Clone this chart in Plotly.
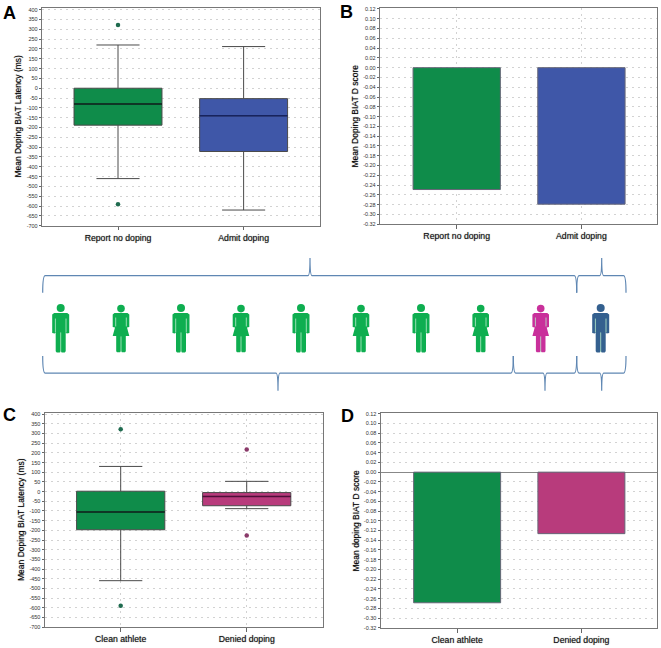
import plotly.graph_objects as go

# figure size in pixels
W = 661
H = 648

# panel A data
a_labels = ["Report no doping", "Admit doping"]
a_q1 = [-188, -322]
a_median = [-80, -140]
a_q3 = [0, -53]
a_low = [-460, -620]
a_high = [220, 212]
a_out_x = [0, 0]
a_out_y = [322, -590]

# panel B data
b_labels = ["Report no doping", "Admit doping"]
b_values = [-0.249, -0.279]

# panel C data
c_labels = ["Clean athlete", "Denied doping"]
c_q1 = [-197, -73]
c_median = [-105, -25]
c_q3 = [2, -5]
c_low = [-460, -88]
c_high = [130, 53]
c_out_x = [0, 0, 1, 1]
c_out_y = [322, -590, 218, -227]

# panel D data
d_labels = ["Clean athlete", "Denied doping"]
d_values = [-0.2685, -0.1264]

# tick labels, typed so they keep the plain hyphen of the original
ms_ticks = [400, 350, 300, 250, 200, 150, 100, 50, 0, -50, -100, -150, -200, -250, -300,
            -350, -400, -450, -500, -550, -600, -650, -700]
ms_text = ["400", "350", "300", "250", "200", "150", "100", "50", "0", "-50", "-100", "-150",
           "-200", "-250", "-300", "-350", "-400", "-450", "-500", "-550", "-600", "-650", "-700"]
d_ticks = [0.12, 0.10, 0.08, 0.06, 0.04, 0.02, 0.00, -0.02, -0.04, -0.06, -0.08, -0.10, -0.12,
           -0.14, -0.16, -0.18, -0.20, -0.22, -0.24, -0.26, -0.28, -0.30, -0.32]
d_text = ["0.12", "0.10", "0.08", "0.06", "0.04", "0.02", "0.00", "-0.02", "-0.04", "-0.06",
          "-0.08", "-0.10", "-0.12", "-0.14", "-0.16", "-0.18", "-0.20", "-0.22", "-0.24",
          "-0.26", "-0.28", "-0.30", "-0.32"]

GREEN = "#0f8c4a"
BLUE = "#3f57a8"
PINK = "#b83b7c"
MED_GREEN = "#06261a"
MED_BLUE = "#17235e"
MED_PINK = "#4d0f38"
DOT_GREEN = "#1f6b4f"
DOT_PINK = "#8a3a6a"
FIG_GREEN = "#0eae50"
FIG_PINK = "#c9309b"
FIG_BLUE = "#34608f"
BRACE = "#5f87b3"
FONT = "Liberation Sans"
SOFT = "0 0 1px rgba(0,0,0,0.55)"  # thickens the small text a little, like the scanned original

fig = go.Figure()
positions = [0, 1]
box_w = 0.7


def add_boxes(ax, q1, med, q3, low, high, colors, med_colors):
    for i in positions:
        fig.add_trace(go.Box(x=[i], q1=[q1[i]], median=[med[i]], q3=[q3[i]],
                             lowerfence=[low[i]], upperfence=[high[i]],
                             width=box_w, whiskerwidth=0.49, boxpoints=False,
                             fillcolor=colors[i], line=dict(color="#4a4a4a", width=1),
                             xaxis="x" + ax, yaxis="y" + ax, showlegend=False))
        # darker median line on top
        fig.add_trace(go.Scatter(x=[i - box_w / 2, i + box_w / 2], y=[med[i], med[i]], mode="lines",
                                 line=dict(color=med_colors[i], width=1.4),
                                 xaxis="x" + ax, yaxis="y" + ax, showlegend=False))


add_boxes("1", a_q1, a_median, a_q3, a_low, a_high, [GREEN, BLUE], [MED_GREEN, MED_BLUE])
fig.add_trace(go.Scatter(x=a_out_x, y=a_out_y, mode="markers",
                         marker=dict(color=DOT_GREEN, size=4.5), xaxis="x1", yaxis="y1", showlegend=False))

fig.add_trace(go.Bar(x=positions, y=b_values, width=box_w, marker=dict(color=[GREEN, BLUE], line=dict(color="#667", width=1)),
                     xaxis="x2", yaxis="y2", showlegend=False))

add_boxes("3", c_q1, c_median, c_q3, c_low, c_high, [GREEN, PINK], [MED_GREEN, MED_PINK])
fig.add_trace(go.Scatter(x=c_out_x, y=c_out_y, mode="markers",
                         marker=dict(color=[DOT_GREEN, DOT_GREEN, DOT_PINK, DOT_PINK], size=4.5),
                         xaxis="x3", yaxis="y3", showlegend=False))

fig.add_trace(go.Bar(x=positions, y=d_values, width=box_w, marker=dict(color=[GREEN, PINK], line=dict(color="#667", width=1)),
                     xaxis="x4", yaxis="y4", showlegend=False))


def px_x(x):
    return x / W


def px_y(y):
    return 1 - y / H


def setup_axes(n, box, labels, xrange, yrange, yticks, ytext, vgrid, zero=False):
    left, right, top, bottom = box
    grid = "#d2d2d2"
    fig.layout["xaxis" + n] = dict(domain=[px_x(left), px_x(right)], anchor="y" + n, range=xrange,
                                   tickmode="array", tickvals=positions, ticktext=labels,
                                   ticks="outside", ticklen=3.5, tickcolor="#666", tickwidth=1,
                                   tickfont=dict(family=FONT, size=8.7, color="#111111", shadow=SOFT),
                                   showgrid=vgrid, gridcolor=grid, griddash="2px,4px", gridwidth=1,
                                   showline=True, linecolor="#777", linewidth=1.4, mirror=True,
                                   zeroline=False, fixedrange=True)
    fig.layout["yaxis" + n] = dict(domain=[px_y(bottom), px_y(top)], anchor="x" + n, range=yrange,
                                   tickmode="array", tickvals=yticks, ticktext=ytext,
                                   ticks="outside", ticklen=2, tickcolor="#666", tickwidth=1,
                                   tickfont=dict(family=FONT, size=5.5, color="#333"),
                                   showgrid=True, gridcolor=grid, griddash="2px,4px", gridwidth=1,
                                   showline=True, linecolor="#777", linewidth=1.4, mirror=True,
                                   zeroline=zero, zerolinecolor="#888", zerolinewidth=1.3, fixedrange=True)


setup_axes("1", (42, 320, 6.5, 225.5), a_labels, [-0.605, 1.608], [-700, 406], ms_ticks, ms_text, False)
setup_axes("2", (380, 657, 6.3, 224), b_labels, [-0.615, 1.606], [-0.32, 0.1214], d_ticks, d_text, True)
setup_axes("3", (44.7, 322.7, 414, 630), c_labels, [-0.603, 1.603], [-700, 407], ms_ticks, ms_text, True)
setup_axes("4", (380.7, 656.7, 414, 630.7), d_labels, [-0.615, 1.606], [-0.32, 0.122], d_ticks, d_text, False, zero=True)


def note(x, y, text, size, bold=False, angle=0):
    fig.add_annotation(x=px_x(x), y=px_y(y), xref="paper", yref="paper", text=text, showarrow=False,
                       textangle=angle, xanchor="center", yanchor="middle",
                       font=dict(family=FONT, size=size, color="#000000", weight="bold" if bold else "normal",
                                 shadow="none" if bold else SOFT))


# panel letters and y axis titles
note(9.5, 11, "A", 18, bold=True)
note(346.5, 10.5, "B", 18, bold=True)
note(9, 416.5, "C", 18, bold=True)
note(347, 417, "D", 18, bold=True)
note(18.5, 115, "Mean Doping BIAT Latency (ms)", 8.5, angle=-90)
note(355.5, 115, "Mean Doping BIAT D score", 8.5, angle=-90)
note(21, 522, "Mean Doping BIAT Latency (ms)", 8.5, angle=-90)
note(355.5, 523, "Mean doping BIAT D score", 8.5, angle=-90)


def path(points):
    # points are pixel positions, turned into paper coordinates
    return "M " + " L ".join(f"{px_x(x):.5f} {px_y(y):.5f}" for x, y in points) + " Z"


def add_path(d, fill=None, line=None, width=0):
    fig.add_shape(type="path", path=d, xref="paper", yref="paper", layer="above",
                  fillcolor=fill if fill else "rgba(0,0,0,0)",
                  line=dict(color=line if line else "rgba(0,0,0,0)", width=width))


def add_head(cx, cy, r, color):
    fig.add_shape(type="circle", xref="paper", yref="paper", x0=px_x(cx - r), x1=px_x(cx + r),
                  y0=px_y(cy + r), y1=px_y(cy - r), fillcolor=color, line=dict(width=0), layer="above")


def gap_line(x0, y0, x1, y1):
    fig.add_shape(type="line", xref="paper", yref="paper", x0=px_x(x0), x1=px_x(x1), y0=px_y(y0), y1=px_y(y1),
                  line=dict(color="#b8ecca", width=0.8), layer="above")


def man(cx, color):
    add_head(cx, 308.3, 4, color)
    add_path(path([(cx - 6.5, 313.3), (cx + 6.5, 313.3), (cx + 8.5, 315), (cx + 8.5, 333.5), (cx + 6, 334),
                   (cx + 5, 333), (cx + 5, 352), (cx + 4, 353.3), (cx + 1, 353.3), (cx, 352), (cx - 1, 353.3),
                   (cx - 4, 353.3), (cx - 5, 352), (cx - 5, 333), (cx - 6, 334), (cx - 8.5, 333.5), (cx - 8.5, 315)]),
             fill=color)
    gap_line(cx, 333, cx, 353)
    gap_line(cx - 5.3, 319, cx - 5.3, 333)
    gap_line(cx + 5.3, 319, cx + 5.3, 333)


def woman(cx, color):
    add_head(cx, 309, 3.8, color)
    add_path(path([(cx - 6.5, 313.3), (cx + 6.5, 313.3), (cx + 8.3, 315), (cx + 8.3, 327.5), (cx + 6, 328),
                   (cx + 8.3, 336.5), (cx + 4.8, 336.5), (cx + 4.8, 352), (cx + 4, 353), (cx + 1, 353), (cx, 352),
                   (cx - 1, 353), (cx - 4, 353), (cx - 4.8, 352), (cx - 4.8, 336.5), (cx - 8.3, 336.5),
                   (cx - 6, 328), (cx - 8.3, 327.5), (cx - 8.3, 315)]), fill=color)
    gap_line(cx, 337, cx, 353)
    gap_line(cx - 5.3, 318, cx - 5.3, 327)
    gap_line(cx + 5.3, 318, cx + 5.3, 327)


def brace(x0, tip, x1, y_end, y_base, y_tip):
    # curly bracket from x0 to x1: the ends point at y_end, the tip at y_tip
    p = lambda x, y: f"{px_x(x):.5f} {px_y(y):.5f}"
    d = ("M " + p(x0, y_end) + " C " + p(x0, y_base + (y_end - y_base) * 0.3) + " " + p(x0 + 0.5, y_base) + " " + p(x0 + 2.5, y_base)
         + " L " + p(tip - 2, y_base) + " C " + p(tip - 0.7, y_base) + " " + p(tip, y_base + (y_tip - y_base) * 0.3) + " " + p(tip, y_tip)
         + " C " + p(tip, y_base + (y_tip - y_base) * 0.3) + " " + p(tip + 0.7, y_base) + " " + p(tip + 2, y_base)
         + " L " + p(x1 - 2.5, y_base) + " C " + p(x1 - 0.5, y_base) + " " + p(x1, y_base + (y_end - y_base) * 0.3) + " " + p(x1, y_end))
    add_path(d, line=BRACE, width=1.2)


# row of figures between the charts
man(60.7, FIG_GREEN)
woman(121, FIG_GREEN)
man(181, FIG_GREEN)
woman(241, FIG_GREEN)
man(301, FIG_GREEN)
woman(361, FIG_GREEN)
man(421, FIG_GREEN)
woman(480.7, FIG_GREEN)
woman(540.7, FIG_PINK)
man(600.7, FIG_BLUE)

brace(42.7, 310, 576.7, 293, 275.7, 258)
brace(576.7, 601.7, 626, 293, 275.7, 258)
brace(42.7, 278, 513.3, 356.7, 374, 391.7)
brace(513.3, 545, 576.7, 356.7, 374, 391.7)
brace(576.7, 601.7, 626, 356.7, 374, 391.7)

fig.update_layout(width=W, height=H, margin=dict(l=0, r=0, t=0, b=0), paper_bgcolor="white",
                  plot_bgcolor="white", showlegend=False, boxmode="overlay", barmode="overlay")

fig.write_html("out.html", config={"displayModeBar": False}, post_script="document.body.style.margin='0';")
